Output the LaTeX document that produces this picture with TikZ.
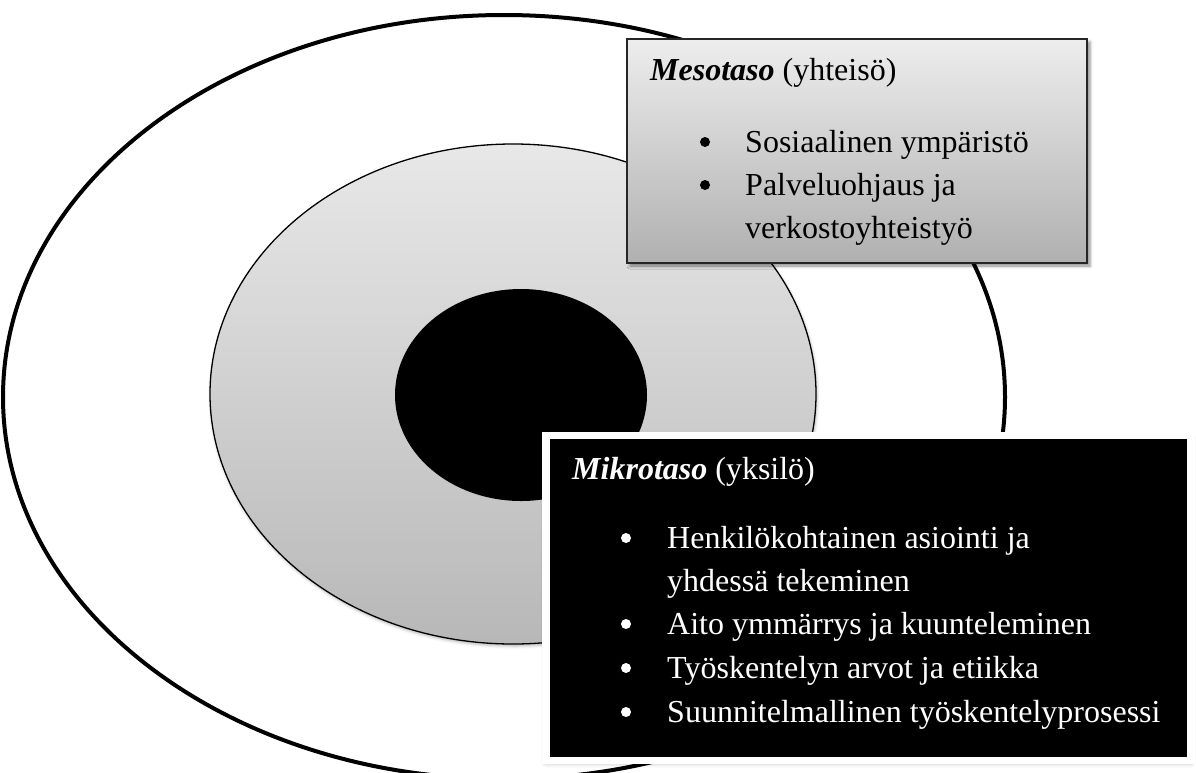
\documentclass[tikz,border=0pt]{standalone}
\usepackage{fontspec}
\setmainfont{Liberation Serif}
\usetikzlibrary{shadows.blur}

\tikzset{
  ring/.style={draw=black, line width=4pt},
  band/.style={draw=black, line width=1.3pt, top color=black!9, bottom color=black!28,
    blur shadow={shadow xshift=1pt, shadow yshift=-2pt, shadow blur radius=3pt, shadow opacity=30}},
  core/.style={fill=black},
  mesobox/.style={rectangle, draw=black!85, line width=1.8pt, top color=black!7, bottom color=black!31,
    inner sep=0pt, outer sep=0pt,
    blur shadow={shadow xshift=3pt, shadow yshift=-3pt, shadow blur radius=3pt, shadow opacity=45}},
  mikrobox/.style={rectangle, fill=black, draw=white, line width=7.5pt, inner sep=0pt, outer sep=0pt,
    blur shadow={shadow xshift=0pt, shadow yshift=-2pt, shadow blur radius=5pt, shadow opacity=35}},
  txt/.style={anchor=base west, inner sep=0pt, font=\fontsize{32}{43}\selectfont},
  dark/.style={txt, text=black},
  light/.style={txt, text=white},
  dot/.style={circle, inner sep=0pt, minimum size=10pt},
  darkdot/.style={dot, fill=black},
  lightdot/.style={dot, fill=white}
}

\begin{document}
\begin{tikzpicture}[x=1pt, y=-1pt]
  \useasboundingbox (0,0) rectangle (1196,772);
  \begin{scope}
    \clip (0,0) rectangle (1196,772);
    % concentric levels
    \draw[ring] (504,397) ellipse [x radius=501, y radius=382];
    \path[band] (513,394) ellipse [x radius=303, y radius=250];
    \path[core] (521,395) ellipse [x radius=126, y radius=106];
  \end{scope}

  % community level box
  \node[mesobox, minimum width=460pt, minimum height=224pt] (meso) at (857,151) {};
  \node[dark] (mesohead) at (650,80) {\textbf{\textit{Mesotaso}} (yhteisö)};
  \node[darkdot] (mesob1) at (705,142) {};
  \node[dark] (meso1) at (745,152) {Sosiaalinen ympäristö};
  \node[darkdot] (mesob2) at (705,185) {};
  \node[dark] (meso2) at (745,195) {Palveluohjaus ja};
  \node[dark] (meso3) at (745,238) {verkostoyhteistyö};

  % individual level box
  \node[mikrobox, minimum width=645pt, minimum height=325pt] (mikro) at (868.5,598) {};
  \node[light] (mikrohead) at (572,479) {\textbf{\textit{Mikrotaso}} (yksilö)};
  \node[lightdot] (mikrob1) at (626,538) {};
  \node[light] (mikro1) at (667,548) {Henkilökohtainen asiointi ja};
  \node[light] (mikro2) at (667,591) {yhdessä tekeminen};
  \node[lightdot] (mikrob3) at (626,624) {};
  \node[light] (mikro3) at (667,634) {Aito ymmärrys ja kuunteleminen};
  \node[lightdot] (mikrob4) at (626,668) {};
  \node[light] (mikro4) at (667,678) {Työskentelyn arvot ja etiikka};
  \node[lightdot] (mikrob5) at (626,712) {};
  \node[light] (mikro5) at (667,722) {Suunnitelmallinen työskentelyprosessi};
\end{tikzpicture}
\end{document}
